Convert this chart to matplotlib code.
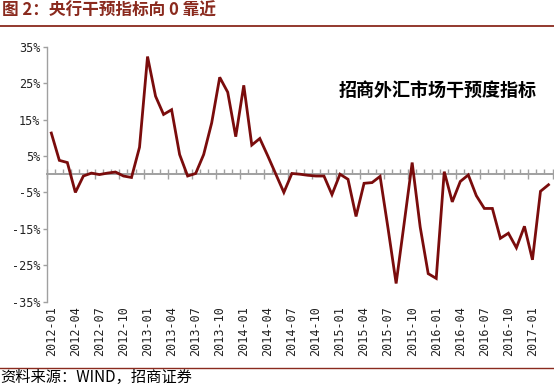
import matplotlib
matplotlib.use("Agg")
import matplotlib.pyplot as plt
from matplotlib.lines import Line2D
from matplotlib.ticker import FixedLocator, FixedFormatter, NullFormatter
import numpy as np

# ---- data ----
series_name = "招商外汇市场干预度指标"
values = [11.3, 3.8, 3.2, -5.0, -0.5, 0.3, -0.1, 0.3, 0.6, -0.5, -0.9, 7.4,
          32.3, 21.4, 16.4, 17.7, 5.4, -0.5, 0.2, 5.4, 14.1, 26.6, 22.5, 10.3,
          24.4, 8.0, 9.8, 5.0, 0.0, -5.0, 0.2, 0.0, -0.3, -0.5, -0.5, -5.6,
          0.0, -1.4, -11.6, -2.5, -2.3, -0.6, -15.0, -30.0, -13.5, 3.2, -14.5, -27.3,
          -28.6, 0.7, -7.6, -2.0, -0.2, -5.9, -9.4, -9.4, -17.6, -16.2, -20.2, -14.3,
          -23.5, -4.7, -2.9]
x_tick_labels = ["2012-01", "2012-04", "2012-07", "2012-10",
                 "2013-01", "2013-04", "2013-07", "2013-10",
                 "2014-01", "2014-04", "2014-07", "2014-10",
                 "2015-01", "2015-04", "2015-07", "2015-10",
                 "2016-01", "2016-04", "2016-07", "2016-10",
                 "2017-01"]
y_ticks = [-35, -25, -15, -5, 5, 15, 25, 35]
y_tick_labels = ["-35%", "-25%", "-15%", "-5%", "5%", "15%", "25%", "35%"]

title = "图 2：央行干预指标向 0 靠近"
source = "资料来源：WIND，招商证券"

# ---- style ----
RED = "#7A0C0C"
TITLE_RED = "#8A2A1E"
GRAY = "#A0A0A0"
CJK = ["Noto Sans CJK SC", "DejaVu Sans"]
plt.rcParams["font.family"] = ["DejaVu Sans Mono"]

fig = plt.figure(figsize=(5.54, 3.86), dpi=100)
W, H = 554, 386
ax = fig.add_axes([47.3 / W, 1 - 301.7 / H, (552.5 - 47.3) / W, (301.7 - 46.7) / H])

x = np.arange(len(values))
ax.plot(x, values, color=RED, lw=2.0, solid_joinstyle="miter", zorder=3)

ax.set_xlim(-0.5, len(values) - 0.5)
ax.set_ylim(-35, 35)

# spines
for s in ["top", "right"]:
    ax.spines[s].set_visible(False)
ax.spines["left"].set_color(GRAY)
ax.spines["left"].set_linewidth(1.0)
ax.spines["bottom"].set_position(("data", 0))
ax.spines["bottom"].set_color(GRAY)
ax.spines["bottom"].set_linewidth(1.4)
ax.spines["bottom"].set_zorder(2)

# y axis
ax.yaxis.set_major_locator(FixedLocator(y_ticks))
ax.yaxis.set_major_formatter(FixedFormatter(y_tick_labels))
ax.tick_params(axis="y", direction="out", length=3, width=1, color=GRAY,
               labelsize=8.5, pad=2, labelcolor="#222222")

# x axis on zero line: boundary ticks
ax.xaxis.set_major_locator(FixedLocator(np.arange(-0.5, len(values), 3)))
ax.xaxis.set_minor_locator(FixedLocator(np.arange(-0.5, len(values), 1)))
ax.xaxis.set_major_formatter(NullFormatter())
ax.tick_params(axis="x", which="major", direction="inout", length=7, width=1, color=GRAY)
ax.tick_params(axis="x", which="minor", direction="in", length=3.5, width=1, color=GRAY)

# x tick labels at the bottom
sec = ax.secondary_xaxis("bottom")
sec.xaxis.set_major_locator(FixedLocator(np.arange(0, len(values), 3)))
sec.xaxis.set_major_formatter(FixedFormatter(x_tick_labels))
sec.tick_params(axis="x", length=0, labelsize=8.5, labelrotation=90, pad=3,
                labelcolor="#222222")
sec.spines["bottom"].set_visible(False)

# series label
ax.text(0.772, 0.830, series_name, transform=ax.transAxes, ha="center", va="center",
        fontsize=13, fontweight="bold", family=CJK, color="black")

# title, rules, source
fig.text(2 / W, 1 - 11 / H, title, ha="left", va="center", fontsize=12,
         fontweight="bold", color=TITLE_RED, family=CJK)
fig.add_artist(Line2D([0, 1], [1 - 26 / H, 1 - 26 / H], color=TITLE_RED, lw=1.3))
fig.add_artist(Line2D([0, 1], [1 - 368 / H, 1 - 368 / H], color=TITLE_RED, lw=1.0))
fig.text(0, 1 - 377 / H, source, ha="left", va="center", fontsize=11,
         color="black", family=CJK)

fig.savefig("out.png", dpi=100)
